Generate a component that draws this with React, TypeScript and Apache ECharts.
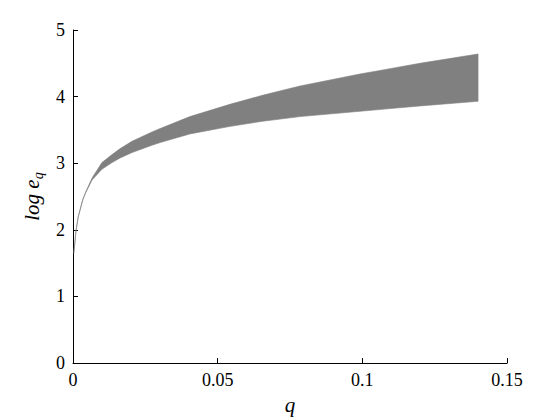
import React, { useEffect, useRef } from "react";
import * as echarts from "echarts";

const qValues = [0.0003, 0.001, 0.0018, 0.0034, 0.0043, 0.0066, 0.01, 0.0135, 0.0163, 0.0204, 0.0273, 0.0301, 0.0404, 0.0539, 0.0655, 0.0785, 0.0992, 0.1096, 0.1199, 0.14];
const upperValues = [1.65, 1.98, 2.2, 2.46, 2.56, 2.78, 3.01, 3.13, 3.22, 3.33, 3.47, 3.52, 3.7, 3.88, 4.02, 4.16, 4.34, 4.42, 4.5, 4.64];
const lowerValues = [1.65, 1.97, 2.19, 2.45, 2.55, 2.75, 2.91, 3.01, 3.08, 3.16, 3.27, 3.31, 3.44, 3.55, 3.63, 3.7, 3.78, 3.82, 3.86, 3.93];
const xTicks = [0, 0.05, 0.1, 0.15];
const yTicks = [0, 1, 2, 3, 4, 5];

const FONT = "Liberation Serif";

export default function App() {
  const ref = useRef<HTMLDivElement>(null);
  useEffect(() => {
    if (!ref.current) return;
    const chart = echarts.init(ref.current, undefined, { renderer: "svg" });
    chart.setOption({
      animation: false,
      backgroundColor: "#ffffff",
      textStyle: { fontFamily: FONT },
      grid: { left: 65, right: 53, top: 22, bottom: 47, containLabel: false },
      xAxis: {
        type: "value",
        min: xTicks[0],
        max: xTicks[xTicks.length - 1],
        interval: 0.05,
        name: "q",
        nameLocation: "middle",
        nameGap: 28,
        nameTextStyle: { fontFamily: FONT, fontStyle: "italic", fontSize: 21, color: "#000" },
        axisLine: { show: true, onZero: false, lineStyle: { color: "#000", width: 1 } },
        axisTick: { show: true, inside: true, length: 5, lineStyle: { color: "#000" } },
        axisLabel: { fontFamily: FONT, fontSize: 18, color: "#000", margin: 8 },
        splitLine: { show: false },
      },
      yAxis: {
        type: "value",
        min: yTicks[0],
        max: yTicks[yTicks.length - 1],
        interval: 1,
        name: "{a|log e}{b|q}",
        nameLocation: "middle",
        nameRotate: 90,
        nameGap: 23,
        nameTextStyle: {
          fontFamily: FONT,
          color: "#000",
          rich: {
            a: { fontFamily: FONT, fontStyle: "italic", fontSize: 21, color: "#000" },
            b: { fontFamily: FONT, fontStyle: "italic", fontSize: 14, color: "#000", padding: [12, 0, 0, 0] },
          },
        },
        axisLine: { show: true, onZero: false, lineStyle: { color: "#000", width: 1 } },
        axisTick: { show: true, inside: true, length: 5, lineStyle: { color: "#000" } },
        axisLabel: { fontFamily: FONT, fontSize: 18, color: "#000", margin: 8 },
        splitLine: { show: false },
      },
      series: [
        {
          type: "custom",
          data: [0],
          silent: true,
          renderItem: (params: any, api: any) => {
            const top = qValues.map((q, i) => api.coord([q, upperValues[i]]));
            const bottom = qValues.map((q, i) => api.coord([q, lowerValues[i]])).reverse();
            return {
              type: "polygon",
              shape: { points: top.concat(bottom) },
              style: { fill: "#808080", stroke: "#808080", lineWidth: 0.6 },
            };
          },
        },
      ],
    });
    return () => chart.dispose();
  }, []);
  return <div ref={ref} style={{ width: 552, height: 412 }} />;
}
